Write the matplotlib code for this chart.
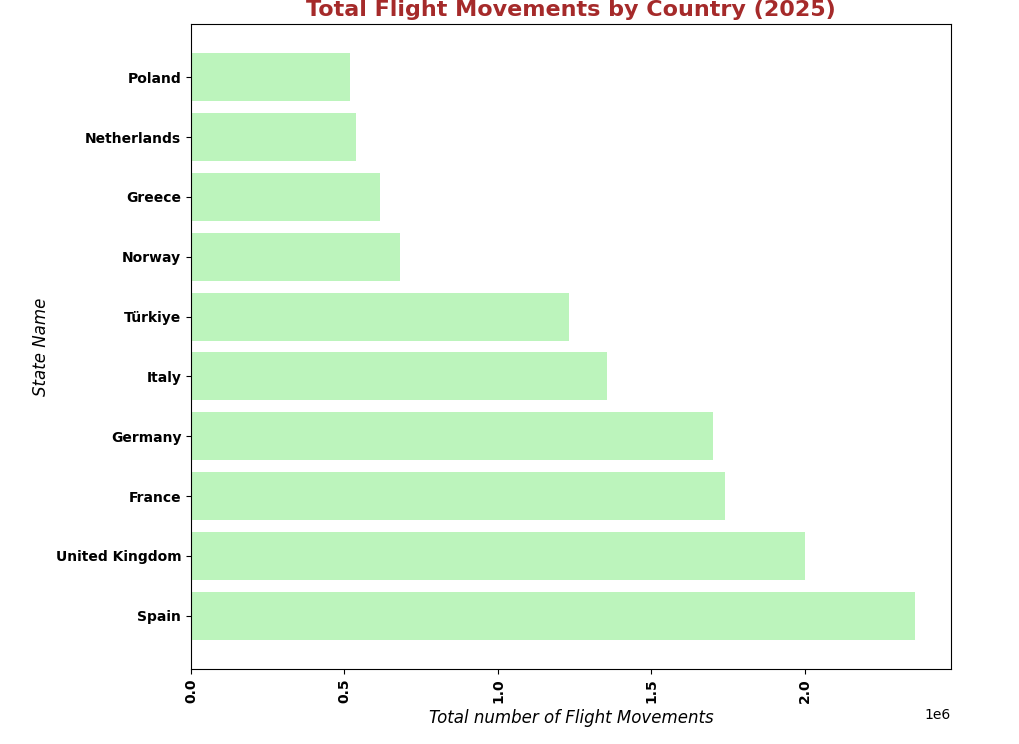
import matplotlib
matplotlib.use("Agg")
import matplotlib.pyplot as plt

countries = ["Spain", "United Kingdom", "France", "Germany", "Italy", "Türkiye",
             "Norway", "Greece", "Netherlands", "Poland"]
movements = [2358000, 2000000, 1739000, 1700000, 1355000, 1231000,
             681000, 616000, 537000, 518000]

fig = plt.figure(figsize=(10.2, 7.44), dpi=100)
ax = fig.add_axes([191/1020, 1-669/744, (951-191)/1020, (669-24)/744])
ax.barh(countries, movements, color="lightgreen", alpha=0.6)
ax.set_title("Total Flight Movements by Country (2025)", fontsize=16,
             fontweight="bold", color="#a52a2a")
ax.set_xlabel("Total number of Flight Movements", fontsize=12, style="italic")
ax.set_ylabel("State Name", fontsize=12, style="italic")
for lbl in ax.get_yticklabels():
    lbl.set_fontweight("bold")
plt.setp(ax.get_xticklabels(), rotation=90, fontweight="bold")
fig.savefig("out.png", dpi=100)
